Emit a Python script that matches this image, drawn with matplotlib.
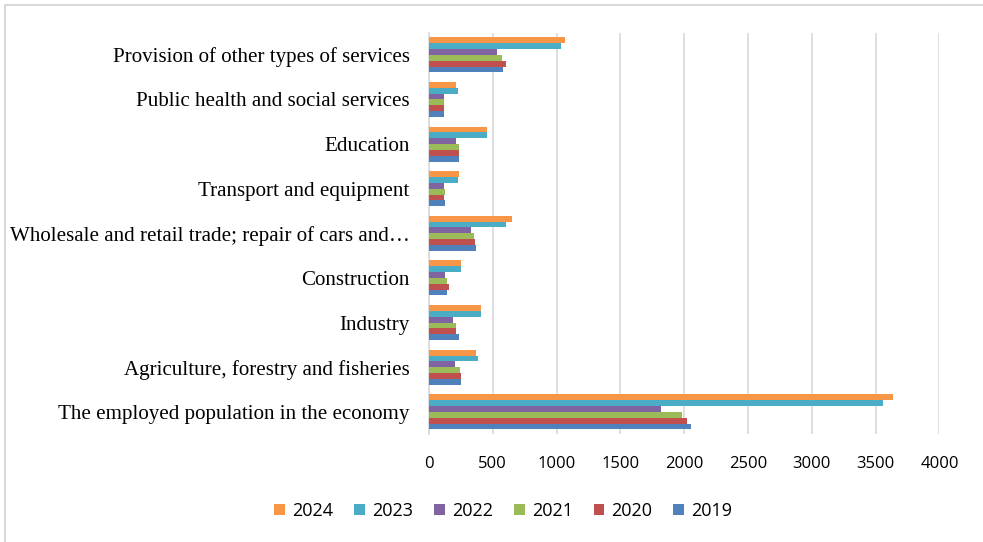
import numpy as np
import matplotlib.pyplot as plt
from matplotlib.patches import Rectangle

categories = ["The employed population in the economy",
              "Agriculture, forestry and fisheries",
              "Industry",
              "Construction",
              "Wholesale and retail trade; repair of cars and\u2026",
              "Transport and equipment",
              "Education",
              "Public health and social services",
              "Provision of other types of services"]

years = ["2019", "2020", "2021", "2022", "2023", "2024"]
v2019 = [2050, 252, 234, 144, 370, 126, 234, 115, 577]
v2020 = [2025, 252, 215, 155, 362, 115, 234, 115, 606]
v2021 = [1985, 244, 215, 144, 352, 126, 234, 115, 572]
v2022 = [1815, 207, 189, 126, 333, 115, 215, 115, 533]
v2023 = [3555, 388, 407, 252, 606, 226, 451, 226, 1031]
v2024 = [3636, 370, 407, 252, 651, 234, 451, 215, 1065]
series = [v2019, v2020, v2021, v2022, v2023, v2024]
colors = ["#4F81BD", "#C0504D", "#9BBB59", "#8064A2", "#4BACC6", "#F79646"]

fig = plt.figure(figsize=(9.83, 5.42), dpi=100)
ax = fig.add_axes([0.4364, 0.199, 0.5193, 0.741])

y = np.arange(len(categories))
h = 0.131
for i, (vals, c, yr) in enumerate(zip(series, colors, years)):
    ax.barh(y + (i - 2.5) * h, vals, height=h, color=c, label=yr, zorder=3)

ax.set_xlim(0, 4000)
ax.set_ylim(-0.5, len(categories) - 0.5)
ax.set_xticks(np.arange(0, 4001, 500))
ax.set_yticks(y)
ax.set_yticklabels(categories, fontfamily="Liberation Serif", fontsize=15.1)
for lab in ax.get_xticklabels():
    lab.set_fontfamily("Open Sans")
    lab.set_fontsize(12)
ax.tick_params(axis="both", length=0, colors="#000000")
ax.tick_params(axis="y", pad=14)
ax.tick_params(axis="x", pad=16)
ax.grid(axis="x", color="#D9D9D9", linewidth=1.2, zorder=0)
for s in ["top", "right", "bottom"]:
    ax.spines[s].set_visible(False)
ax.spines["left"].set_color("#D9D9D9")
ax.spines["left"].set_linewidth(1.2)

handles, labels = ax.get_legend_handles_labels()
leg = fig.legend(handles[::-1], labels[::-1], loc="center", ncol=6,
                 bbox_to_anchor=(0.512, 0.057), frameon=False,
                 prop={"family": "Open Sans", "size": 13},
                 handlelength=0.6, handleheight=0.6, handletextpad=0.4,
                 columnspacing=1.15)

fig.patches.append(Rectangle((5 / 983, -0.1), 1.2, 1 - 5 / 542 + 0.1,
                             transform=fig.transFigure, fill=False,
                             edgecolor="#D9D9D9", linewidth=1.5))

fig.savefig("out.png", dpi=100)
